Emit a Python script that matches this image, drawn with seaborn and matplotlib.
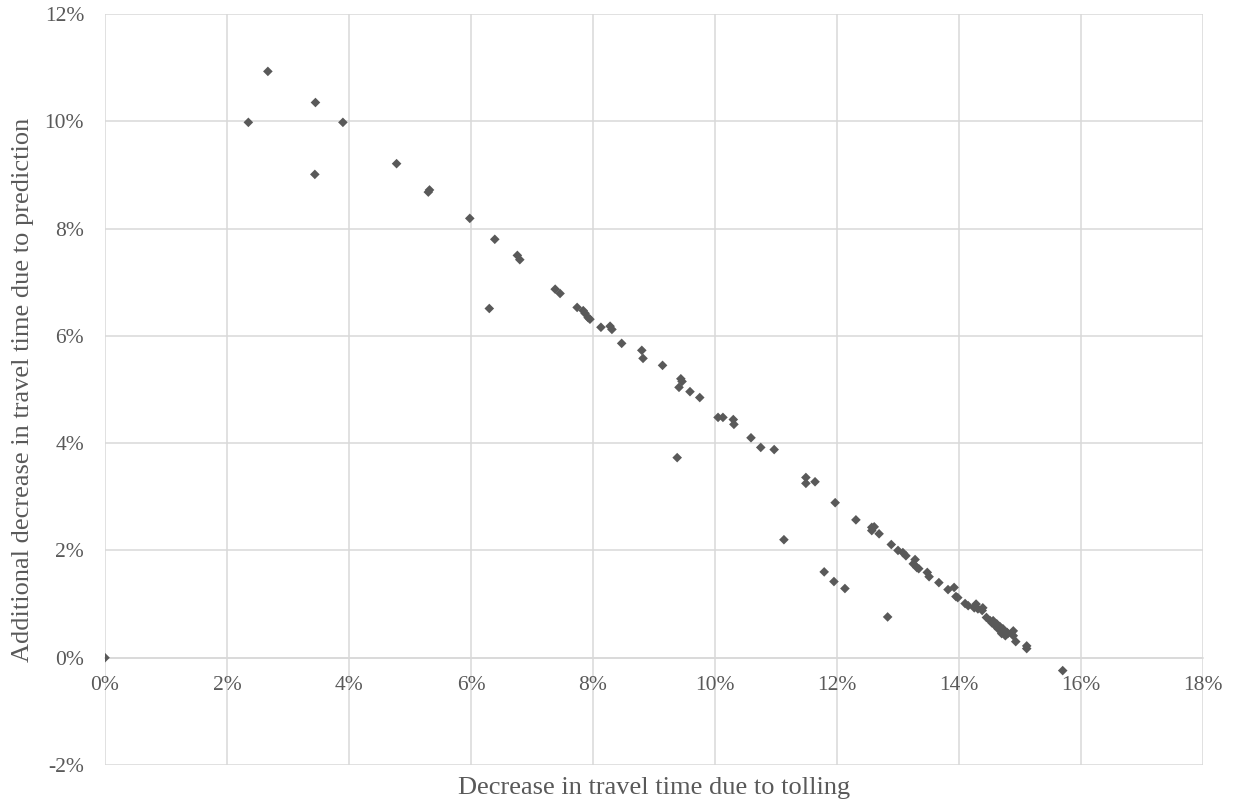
import matplotlib
matplotlib.use("Agg")
import matplotlib.pyplot as plt
import seaborn as sns
import pandas as pd
from matplotlib.ticker import FuncFormatter, MultipleLocator

# Data (percent values)
toll_decrease = [
    0.0, 2.35, 2.67, 3.45, 3.90, 3.44, 4.78, 5.30, 5.32, 5.98, 6.39, 6.76, 6.80, 6.30,
    7.38, 7.46, 7.74, 7.84, 7.87, 7.92, 7.95, 8.13, 8.28, 8.31, 8.47, 8.80, 8.82,
    9.14, 9.44, 9.46, 9.41, 9.59, 9.75, 9.38, 10.05, 10.13, 10.30, 10.31, 10.59, 10.75,
    10.97, 11.13, 11.49, 11.49, 11.64, 11.79, 11.95, 11.97, 12.13, 12.31, 12.57, 12.61,
    12.57, 12.69, 12.83, 12.89, 13.00, 13.08, 13.13, 13.25, 13.28, 13.31, 13.34, 13.48,
    13.51, 13.67, 13.82, 13.92, 13.95, 13.98, 14.10, 14.15, 14.25, 14.28, 14.31, 14.38,
    14.39, 14.45, 14.51, 14.54, 14.56, 14.59, 14.62, 14.64, 14.67, 14.70, 14.72, 14.76,
    14.79, 14.80, 14.89, 14.89, 14.93, 15.11, 15.11, 15.70,
]
prediction_decrease = [
    0.0, 9.98, 10.93, 10.35, 9.98, 9.01, 9.21, 8.68, 8.72, 8.19, 7.80, 7.50, 7.42, 6.51,
    6.87, 6.79, 6.53, 6.47, 6.42, 6.34, 6.31, 6.16, 6.18, 6.12, 5.86, 5.73, 5.58,
    5.45, 5.20, 5.15, 5.04, 4.96, 4.85, 3.73, 4.48, 4.48, 4.44, 4.35, 4.10, 3.92,
    3.88, 2.20, 3.36, 3.25, 3.28, 1.60, 1.42, 2.89, 1.29, 2.57, 2.43, 2.44,
    2.37, 2.31, 0.76, 2.11, 2.00, 1.96, 1.90, 1.75, 1.83, 1.68, 1.66, 1.59,
    1.51, 1.40, 1.27, 1.31, 1.14, 1.12, 1.01, 0.97, 0.93, 1.00, 0.91, 0.88,
    0.93, 0.75, 0.69, 0.65, 0.69, 0.60, 0.63, 0.54, 0.58, 0.45, 0.54, 0.41,
    0.47, 0.45, 0.50, 0.41, 0.30, 0.22, 0.17, -0.24,
]
x_label = "Decrease in travel time due to tolling"
y_label = "Additional decrease in travel time due to prediction"

df = pd.DataFrame({"x": toll_decrease, "y": prediction_decrease})

sns.set_theme(style="white")
plt.rcParams["font.family"] = ["Liberation Serif", "DejaVu Serif"]

fig = plt.figure(figsize=(12.38, 8.02), dpi=100)
ax = fig.add_axes([105 / 1238, 1 - 765 / 802, (1203 - 105) / 1238, (765 - 14) / 802])

sns.scatterplot(data=df, x="x", y="y", ax=ax, marker="D", s=24,
                color="#595959", edgecolor="none", linewidth=0, zorder=3)

ax.set_xlim(0, 18)
ax.set_ylim(-2, 12)
ax.xaxis.set_major_locator(MultipleLocator(2))
ax.yaxis.set_major_locator(MultipleLocator(2))
pct = FuncFormatter(lambda v, p: f"{v:.0f}%")
ax.xaxis.set_major_formatter(pct)
ax.yaxis.set_major_formatter(pct)

ax.grid(True, color="#d9d9d9", linewidth=1.1, zorder=0)
ax.set_axisbelow(True)
for s in ["top", "right", "left"]:
    ax.spines[s].set_visible(False)
ax.spines["bottom"].set_position(("data", 0))
ax.spines["bottom"].set_color("#d9d9d9")
ax.spines["bottom"].set_linewidth(1.1)

ax.tick_params(axis="both", length=0, labelsize=15.5, colors="#595959")
ax.tick_params(axis="x", pad=13)
ax.tick_params(axis="y", pad=15)

ax.set_xlabel(x_label, fontsize=19, color="#595959")
ax.set_ylabel(y_label, fontsize=19, color="#595959")
ax.xaxis.set_label_coords(0.5, -0.016)
ax.yaxis.set_label_coords(-0.0645, 0.5)

fig.savefig("out.png", dpi=100)
